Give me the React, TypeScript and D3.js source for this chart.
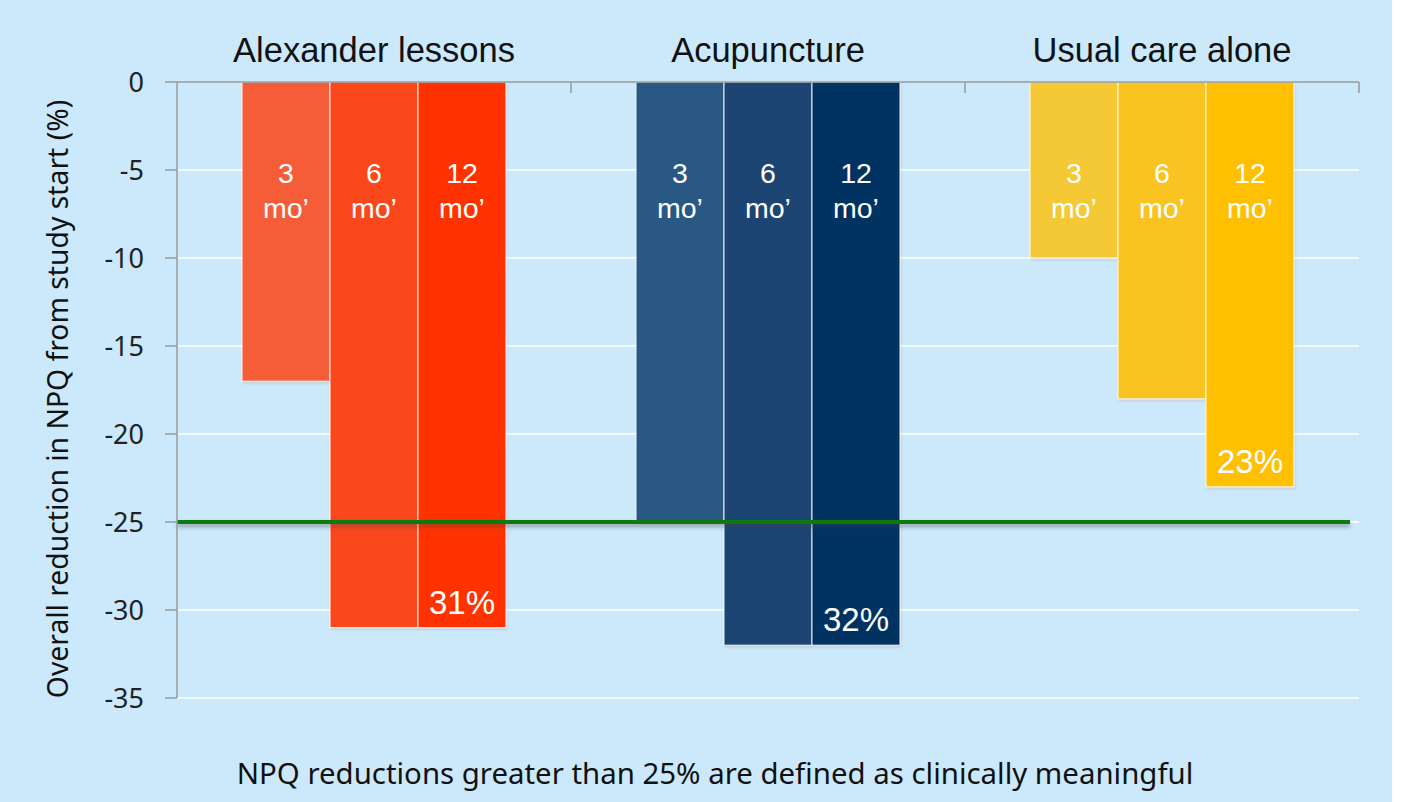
import React from 'react'
import * as d3 from 'd3'

const groups = ['Alexander lessons', 'Acupuncture', 'Usual care alone']
const periods = ['3', '6', '12']
const alexanderValues = [-17, -31, -31]
const acupunctureValues = [-25, -32, -32]
const usualCareValues = [-10, -18, -23]
const yTicks = [0, -5, -10, -15, -20, -25, -30, -35]
const threshold = -25

const seriesByGroup = [alexanderValues, acupunctureValues, usualCareValues]
const colorsByGroup = [
  ['#F55B37', '#FA471C', '#FF3300'],
  ['#2B5884', '#1B4573', '#033262'],
  ['#F5C936', '#F9C322', '#FEC000'],
]

const W = 1404
const H = 802
const bgW = 1392
const left = 177
const right = 1359
const top = 82
const bottom = 698

export default function App() {
  const y = d3.scaleLinear().domain([0, -35]).range([top, bottom])
  const xGroup = d3.scaleBand<string>().domain(groups).range([left, right])
    .paddingInner(0.33).paddingOuter(0.165)
  const xSub = d3.scaleBand<string>().domain(periods).range([0, xGroup.bandwidth()])
  const step = xGroup.step()
  const groupEdges = groups.map((g, i) => left + step * (i + 1))

  const arial = 'Liberation Sans, Arial, sans-serif'
  const segoe = 'Noto Sans, Open Sans, sans-serif'

  return (
    <svg width={W} height={H} style={{ position: 'absolute', left: 0, top: 0 }}>
      <defs>
        <filter id="barShadow" x="-10%" y="-10%" width="120%" height="120%">
          <feDropShadow dx="1" dy="2" stdDeviation="1" floodColor="#b08070" floodOpacity="0.25" />
        </filter>
        <filter id="lineShadow" filterUnits="userSpaceOnUse" x={0} y={0} width={W} height={H}>
          <feDropShadow dx="0" dy="3" stdDeviation="2" floodColor="#404040" floodOpacity="0.45" />
        </filter>
      </defs>
      <rect x={0} y={0} width={W} height={H} fill="#ffffff" />
      <rect x={0} y={0} width={bgW} height={H} fill="#CCE9FC" />

      {/* gridlines */}
      {yTicks.filter(t => t !== 0).map(t => (
        <line key={t} x1={left} x2={right} y1={y(t)} y2={y(t)} stroke="#ffffff" strokeWidth={1.5} />
      ))}

      {/* bars */}
      {groups.map((g, gi) => (
        <g key={g} transform={`translate(${xGroup(g)},0)`}>
          {periods.map((p, pi) => {
            const v = seriesByGroup[gi][pi]
            const x0 = xSub(p)!
            const bw = xSub.bandwidth()
            return (
              <g key={p}>
                <rect x={x0} y={y(0)} width={bw} height={y(v) - y(0)}
                  fill={colorsByGroup[gi][pi]} stroke="rgba(255,255,255,0.75)" strokeWidth={1.2}
                  filter="url(#barShadow)" />
                <text x={x0 + bw / 2} y={183} textAnchor="middle" fill="#fff"
                  fontFamily={arial} fontSize={28.5}>{p}</text>
                <text x={x0 + bw / 2} y={218} textAnchor="middle" fill="#fff"
                  fontFamily={arial} fontSize={28.5}>mo’</text>
              </g>
            )
          })}
          {(() => {
            const last = periods[periods.length - 1]
            const v = seriesByGroup[gi][periods.length - 1]
            return (
              <text x={xSub(last)! + xSub.bandwidth() / 2} y={y(v) - 14} textAnchor="middle"
                fill="#fff" fontFamily={arial} fontSize={33}>{`${-v}%`}</text>
            )
          })()}
          <text x={xGroup.bandwidth() / 2} y={62} textAnchor="middle" fill="#111"
            fontFamily={arial} fontSize={34.5}>{g}</text>
        </g>
      ))}

      {/* threshold line */}
      <line x1={left} x2={1350} y1={y(threshold)} y2={y(threshold)}
        stroke="#0B7A0B" strokeWidth={4} filter="url(#lineShadow)" />

      {/* axes */}
      <line x1={left} x2={left} y1={top} y2={bottom} stroke="#9a9a9a" strokeWidth={1.5} />
      <line x1={left} x2={right} y1={top} y2={top} stroke="#9a9a9a" strokeWidth={1.5} />
      {yTicks.map(t => (
        <g key={t}>
          <line x1={165} x2={left} y1={y(t)} y2={y(t)} stroke="#9a9a9a" strokeWidth={1.5} />
          <text x={144} y={y(t) + 9.5} textAnchor="end" fill="#222" fontFamily={segoe} fontSize={27}>{t}</text>
        </g>
      ))}
      {groupEdges.map((x, i) => (
        <line key={i} x1={x} x2={x} y1={top} y2={top + 11} stroke="#9a9a9a" strokeWidth={1.5} />
      ))}

      <text transform={`translate(68,399) rotate(-90)`} textAnchor="middle"
        fill="#111" fontFamily={segoe} fontSize={28.3}>Overall reduction in NPQ from study start (%)</text>

      <text x={715} y={784} textAnchor="middle" fill="#111" fontFamily={segoe} fontSize={29.4}>
        NPQ reductions greater than 25% are defined as clinically meaningful
      </text>
    </svg>
  )
}
